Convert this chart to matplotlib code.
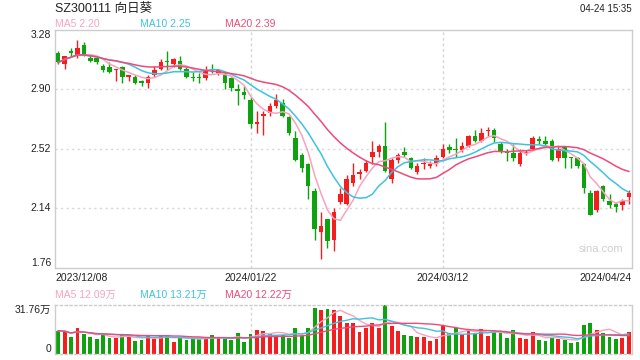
import pandas as pd
import matplotlib
matplotlib.use("Agg")
import matplotlib.pyplot as plt
import matplotlib.transforms as mtransforms

plt.rcParams['font.family'] = ['Liberation Sans', 'Noto Sans CJK SC', 'DejaVu Sans']

# daily candles, 2023/12/08 .. 2024/04/24
opens = [3.13, 3.06, 3.14, 3.11, 3.18, 3.10, 3.10, 3.05, 3.04, 3.02,
         3.04, 2.98, 2.98, 2.95, 2.94, 2.99, 3.03, 3.08, 3.06, 3.08,
         3.03, 2.98, 2.98, 2.97, 3.03, 3.00, 2.99, 2.97, 2.90, 2.88,
         2.83, 2.68, 2.73, 2.75, 2.79, 2.81, 2.72, 2.59, 2.48, 2.42,
         2.25, 1.99, 2.07, 1.94, 2.18, 2.17, 2.30, 2.36, 2.38, 2.47,
         2.50, 2.54, 2.33, 2.45, 2.50, 2.46, 2.37, 2.42, 2.41, 2.43,
         2.47, 2.53, 2.52, 2.51, 2.54, 2.60, 2.57, 2.63, 2.64, 2.55,
         2.50, 2.49, 2.42, 2.49, 2.52, 2.58, 2.57, 2.57, 2.46, 2.53,
         2.47, 2.46, 2.42, 2.24, 2.13, 2.28, 2.19, 2.17, 2.16, 2.21]
highs = [3.14, 3.11, 3.16, 3.21, 3.20, 3.12, 3.11, 3.06, 3.07, 3.03,
         3.05, 2.99, 2.99, 2.96, 2.99, 3.05, 3.09, 3.14, 3.10, 3.11,
         3.04, 3.01, 3.00, 3.05, 3.06, 3.03, 3.01, 2.98, 2.93, 2.92,
         2.85, 2.76, 2.76, 2.81, 2.87, 2.84, 2.73, 2.63, 2.49, 2.43,
         2.27, 2.12, 2.07, 2.14, 2.27, 2.35, 2.43, 2.39, 2.45, 2.57,
         2.55, 2.69, 2.46, 2.49, 2.53, 2.47, 2.43, 2.46, 2.44, 2.48,
         2.55, 2.55, 2.59, 2.56, 2.61, 2.64, 2.65, 2.66, 2.65, 2.56,
         2.52, 2.55, 2.52, 2.51, 2.60, 2.60, 2.60, 2.58, 2.54, 2.54,
         2.47, 2.47, 2.43, 2.26, 2.26, 2.29, 2.23, 2.18, 2.20, 2.26]
lows = [3.06, 3.03, 3.11, 3.10, 3.11, 3.07, 3.06, 3.01, 3.00, 2.95,
        2.94, 2.95, 2.93, 2.92, 2.91, 2.98, 3.02, 3.02, 3.04, 3.02,
        2.97, 2.95, 2.94, 2.96, 3.00, 2.99, 2.90, 2.89, 2.80, 2.84,
        2.65, 2.62, 2.61, 2.73, 2.78, 2.72, 2.61, 2.44, 2.37, 2.20,
        1.94, 1.82, 1.89, 1.87, 2.17, 2.16, 2.28, 2.33, 2.37, 2.42,
        2.47, 2.37, 2.30, 2.43, 2.47, 2.39, 2.36, 2.39, 2.40, 2.41,
        2.46, 2.49, 2.47, 2.50, 2.53, 2.56, 2.56, 2.60, 2.56, 2.49,
        2.44, 2.44, 2.41, 2.48, 2.51, 2.55, 2.54, 2.44, 2.44, 2.40,
        2.40, 2.40, 2.24, 2.10, 2.12, 2.19, 2.14, 2.12, 2.13, 2.17]
closes = [3.07, 3.11, 3.13, 3.16, 3.12, 3.08, 3.07, 3.02, 3.01, 3.03,
          2.98, 2.99, 2.94, 2.94, 2.98, 3.02, 3.07, 3.07, 3.09, 3.03,
          2.98, 2.97, 2.97, 3.02, 3.02, 3.02, 2.94, 2.91, 2.89, 2.86,
          2.68, 2.69, 2.74, 2.79, 2.83, 2.73, 2.62, 2.45, 2.40, 2.28,
          2.01, 2.03, 1.93, 2.12, 2.23, 2.33, 2.35, 2.37, 2.43, 2.50,
          2.54, 2.38, 2.45, 2.48, 2.48, 2.40, 2.41, 2.43, 2.42, 2.46,
          2.52, 2.51, 2.515, 2.54, 2.60, 2.57, 2.62, 2.64, 2.59, 2.50,
          2.49, 2.46, 2.49, 2.50, 2.59, 2.57, 2.55, 2.45, 2.52, 2.46,
          2.46, 2.41, 2.27, 2.10, 2.25, 2.20, 2.16, 2.15, 2.19, 2.24]
# volume in 万
volumes = [15.1, 14.5, 11.2, 17.1, 13.2, 11.2, 9.9, 12.5, 10.6, 10.6,
           12.5, 11.2, 8.6, 9.3, 11.9, 9.9, 12.5, 11.9, 8.0, 11.2,
           9.3, 9.9, 9.9, 9.9, 12.5, 10.6, 9.9, 9.3, 13.8, 8.0,
           13.2, 15.8, 15.1, 13.2, 12.5, 12.5, 10.6, 17.1, 11.9, 17.1,
           30.0, 28.7, 29.4, 28.7, 24.8, 20.3, 20.3, 14.5, 17.1, 20.3,
           17.1, 31.76, 18.4, 15.1, 12.5, 11.9, 11.2, 11.2, 8.6, 9.9,
           18.4, 13.8, 17.1, 12.5, 15.1, 13.8, 16.4, 11.9, 14.5, 13.8,
           10.6, 15.8, 10.6, 9.9, 14.5, 9.3, 8.6, 11.2, 9.9, 9.3,
           7.3, 8.0, 19.0, 20.3, 15.8, 13.8, 11.2, 9.9, 10.6, 14.5]

price_ticks = [1.76, 2.14, 2.52, 2.90, 3.28]
date_labels = ["2023/12/08", "2024/01/22", "2024/03/12", "2024/04/24"]
date_index = [0, 30, 60, 89]

RED = '#f41e1e'
GREEN = '#0ea30e'
C_MA5 = '#f7a3bf'
C_MA10 = '#3ec3df'
C_MA20 = '#ee4a7b'
FRAME = '#cccccc'
GRID = '#d6d6d6'
TXT = '#222222'

df = pd.DataFrame({'open': opens, 'high': highs, 'low': lows,
                   'close': closes, 'vol': volumes})
n = len(df)
x = list(range(n))
up = df['close'] >= df['open']
colors = [RED if u else GREEN for u in up]

W, H = 640, 360
fig = plt.figure(figsize=(6.4, 3.6), dpi=100)

def px_axes(left, top, right, bottom):
    return fig.add_axes([left / W, 1 - bottom / H, (right - left) / W, (bottom - top) / H])

ax = px_axes(55, 29.5, 632, 268)
axv = px_axes(55, 305, 632, 354)

for a in (ax, axv):
    a.set_xlim(-0.5, n - 0.5)
    a.set_xticks([])
    a.set_yticks([])
    for s in a.spines.values():
        s.set_color(FRAME)
        s.set_linewidth(1)

# price panel
ax.set_ylim(price_ticks[0], price_ticks[-1])
for p in price_ticks[1:-1]:
    ax.axhline(p, color=GRID, lw=1, ls=(0, (1.5, 2.5)), zorder=0)
for i in date_index[1:3]:
    ax.axvline(i, color=GRID, lw=1, ls=(0, (2, 2)), zorder=0)
    axv.axvline(i, color=GRID, lw=1, ls=(0, (2, 2)), zorder=0)

ax.vlines(x, df['low'], df['high'], colors=colors, lw=1, zorder=2)
body_lo = df[['open', 'close']].min(axis=1)
body_h = (df['close'] - df['open']).abs().clip(lower=0.006)
ax.bar(x, body_h, bottom=body_lo, width=0.7, color=colors, lw=0, zorder=3)

for w, c in ((5, C_MA5), (10, C_MA10), (20, C_MA20)):
    ax.plot(x, df['close'].rolling(w, min_periods=1).mean(), color=c, lw=1.1, zorder=4)

trans = mtransforms.blended_transform_factory(ax.transAxes, ax.transData)
for k, p in enumerate(price_ticks):
    va = 'bottom' if k == 0 else ('top' if k == len(price_ticks) - 1 else 'center')
    ax.text(-0.007, p, f"{p:.2f}", transform=trans, ha='right', va=va,
            fontsize=7.5, color=TXT)

for lab, i, ha in zip(date_labels, date_index, ['left', 'center', 'center', 'right']):
    xx = -0.5 if ha == 'left' else (n - 0.5 if ha == 'right' else i)
    ax.text(xx, -0.02, lab, transform=mtransforms.blended_transform_factory(ax.transData, ax.transAxes),
            ha=ha, va='top', fontsize=7.5, color=TXT)

fig.text(55 / W, 1 - 9 / H, "SZ300111 向日葵", fontsize=9, color=TXT, va='center', ha='left')
fig.text(632 / W, 1 - 9 / H, "04-24 15:35", fontsize=7, color=TXT, va='center', ha='right')
for xp, t, c in ((55, "MA5 2.20", C_MA5), (140, "MA10 2.25", C_MA10), (225, "MA20 2.39", C_MA20)):
    fig.text(xp / W, 1 - 24 / H, t, fontsize=7.5, color=c, va='center', ha='left')
for xp, t, c in ((55, "MA5 12.09万", C_MA5), (140, "MA10 13.21万", C_MA10), (225, "MA20 12.22万", C_MA20)):
    fig.text(xp / W, 1 - 295 / H, t, fontsize=7.5, color=c, va='center', ha='left')
fig.text(601 / W, 1 - 249 / H, "sina.com", fontsize=8, color='#d0d0d0', va='center', ha='center')

# volume panel
axv.set_ylim(0, max(volumes))
axv.spines['top'].set_linestyle((0, (1.5, 2)))
axv.spines['bottom'].set_linestyle((0, (1.5, 2)))
axv.bar(x, df['vol'], width=0.6, color=colors, lw=0, zorder=2)
for w, c in ((5, C_MA5), (10, C_MA10), (20, C_MA20)):
    axv.plot(x, df['vol'].rolling(w, min_periods=1).mean(), color=c, lw=1, zorder=3)
vtrans = mtransforms.blended_transform_factory(axv.transAxes, axv.transData)
axv.text(-0.007, max(volumes), f"{max(volumes):.2f}万", transform=vtrans, ha='right', va='top',
         fontsize=7.5, color=TXT)
axv.text(-0.007, 0, "0", transform=vtrans, ha='right', va='bottom', fontsize=7.5, color=TXT)

fig.savefig("out.png", dpi=100)
